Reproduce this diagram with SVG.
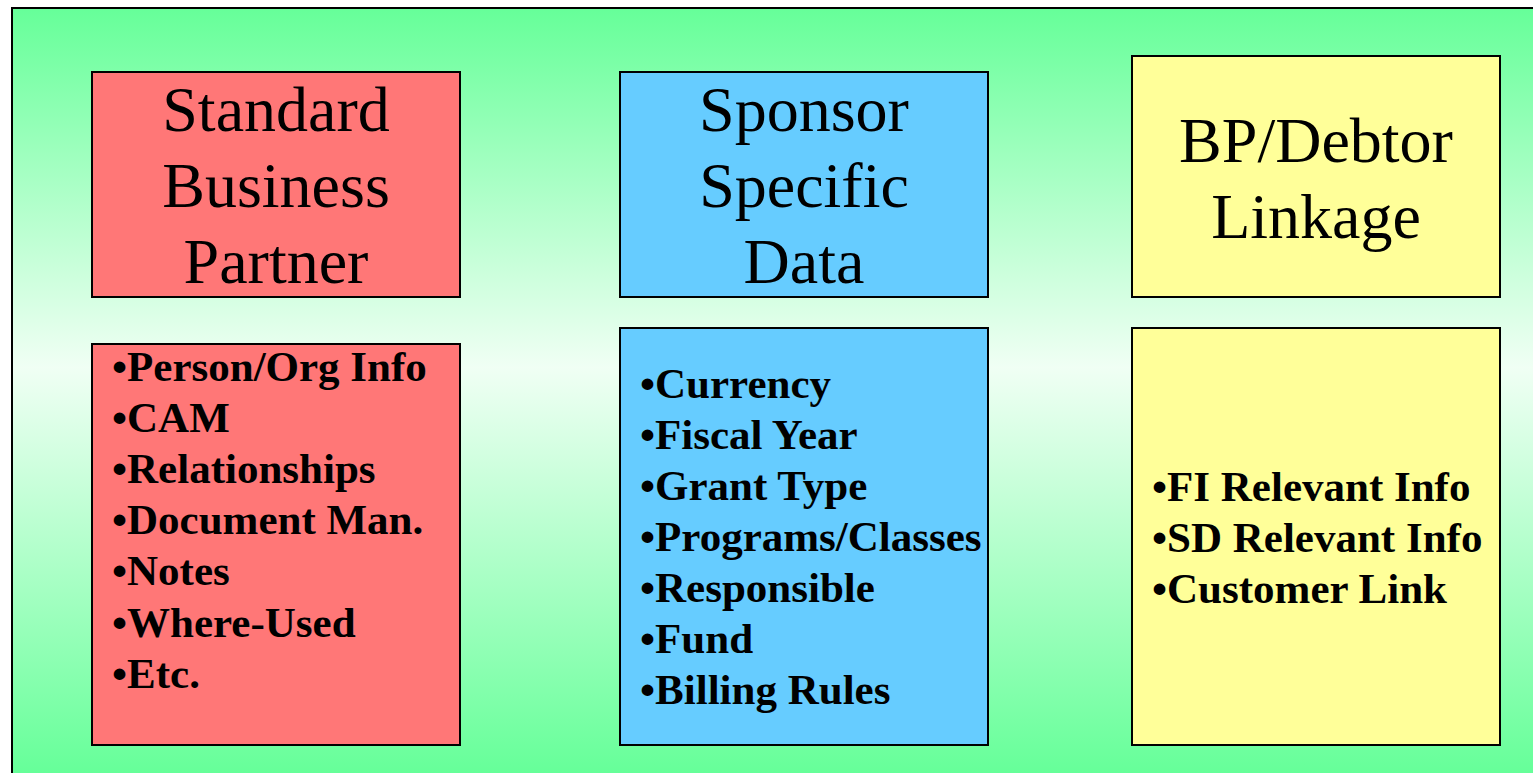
<svg xmlns="http://www.w3.org/2000/svg" width="1533" height="773" viewBox="0 0 1533 773">
<defs>
<linearGradient id="bg" x1="0" y1="8" x2="0" y2="773" gradientUnits="userSpaceOnUse">
<stop offset="0" stop-color="#66FF99"/>
<stop offset="0.47" stop-color="#F0FFF4"/>
<stop offset="1" stop-color="#66FF99"/>
</linearGradient>
</defs>
<style>
.box{stroke:#000;stroke-width:2}
.red{fill:#FF7777}
.blue{fill:#66CCFF}
.yellow{fill:#FFFF99}
.title{font-family:"Liberation Serif","Times New Roman",serif;font-size:64px;fill:#000;text-anchor:middle}
.item{font-family:"Liberation Serif","Times New Roman",serif;font-size:43px;font-weight:bold;fill:#000}
</style>
<rect x="0" y="0" width="1533" height="773" fill="#FFFFFF"/>
<rect x="12" y="8" width="1540" height="800" fill="url(#bg)" stroke="#000" stroke-width="2"/>
<g id="connectors"></g>
<g id="node-standard-bp">
<rect class="box red" x="92" y="72" width="368" height="225"/>
<text class="title" x="276" y="131">Standard</text>
<text class="title" x="276" y="207">Business</text>
<text class="title" x="276" y="283">Partner</text>
</g>
<g id="node-sponsor-data">
<rect class="box blue" x="620" y="72" width="368" height="225"/>
<text class="title" x="804" y="131">Sponsor</text>
<text class="title" x="804" y="207">Specific</text>
<text class="title" x="804" y="283">Data</text>
</g>
<g id="node-bp-debtor">
<rect class="box yellow" x="1132" y="56" width="368" height="241"/>
<text class="title" x="1316" y="162">BP/Debtor</text>
<text class="title" x="1316" y="238">Linkage</text>
</g>
<g id="node-standard-list">
<rect class="box red" x="92" y="344" width="368" height="401"/>
<text class="item" x="112" y="381">•Person/Org Info</text>
<text class="item" x="112" y="432">•CAM</text>
<text class="item" x="112" y="483">•Relationships</text>
<text class="item" x="112" y="534">•Document Man.</text>
<text class="item" x="112" y="585">•Notes</text>
<text class="item" x="112" y="637">•Where-Used</text>
<text class="item" x="112" y="688">•Etc.</text>
</g>
<g id="node-sponsor-list">
<rect class="box blue" x="620" y="328" width="368" height="417"/>
<text class="item" x="640" y="398">•Currency</text>
<text class="item" x="640" y="449">•Fiscal Year</text>
<text class="item" x="640" y="500">•Grant Type</text>
<text class="item" x="640" y="551">•Programs/Classes</text>
<text class="item" x="640" y="602">•Responsible</text>
<text class="item" x="640" y="653">•Fund</text>
<text class="item" x="640" y="704">•Billing Rules</text>
</g>
<g id="node-bp-debtor-list">
<rect class="box yellow" x="1132" y="328" width="368" height="417"/>
<text class="item" x="1152" y="501">•FI Relevant Info</text>
<text class="item" x="1152" y="552">•SD Relevant Info</text>
<text class="item" x="1152" y="603">•Customer Link</text>
</g>
</svg>
